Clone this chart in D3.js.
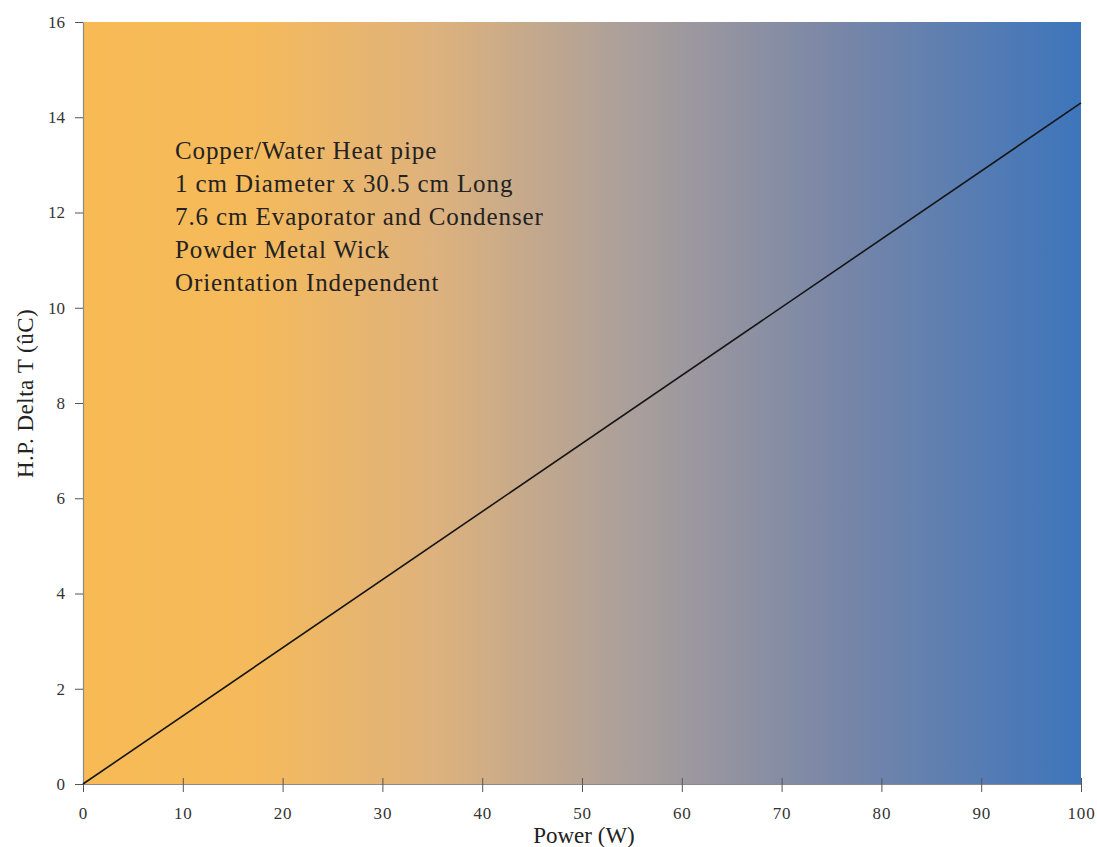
<!DOCTYPE html>
<html>
<head>
<meta charset="utf-8">
<script src="https://cdn.jsdelivr.net/npm/d3@7"></script>
<style>
  body { margin: 0; background: #fff; }
  svg { display: block; font-family: "Liberation Serif", "DejaVu Serif", serif; }
</style>
</head>
<body>
<svg width="1097" height="847"></svg>
<script>
// data
const power = [0, 100];
const deltaT = [0, 14.3];
const xTicks = [0, 10, 20, 30, 40, 50, 60, 70, 80, 90, 100];
const yTicks = [0, 2, 4, 6, 8, 10, 12, 14, 16];
const notes = [
  "Copper/Water Heat pipe",
  "1 cm Diameter x 30.5 cm Long",
  "7.6 cm Evaporator and Condenser",
  "Powder Metal Wick",
  "Orientation Independent",
];

const svg = d3.select("svg");
const margin = { top: 22, right: 16, bottom: 63, left: 83 };
const width = 1097 - margin.left - margin.right;
const height = 847 - margin.top - margin.bottom;

const x = d3.scaleLinear().domain([0, 100]).range([0, width]);
const y = d3.scaleLinear().domain([0, 16]).range([height, 0]);

// background gradient orange -> blue
const grad = svg.append("defs").append("linearGradient")
  .attr("id", "bg").attr("x1", "0%").attr("x2", "100%").attr("y1", "0%").attr("y2", "0%");
[
  [0, "#f7ba55"],
  [0.17, "#f5ba5b"],
  [0.35, "#deb27d"],
  [0.55, "#aa9f9b"],
  [0.75, "#7a87a7"],
  [1, "#3d75bb"],
].forEach(([o, c]) => grad.append("stop").attr("offset", o).attr("stop-color", c));

const g = svg.append("g").attr("transform", `translate(${margin.left},${margin.top})`);

g.append("rect")
  .attr("width", width).attr("height", height)
  .attr("fill", "url(#bg)");

// x axis, ticks cross the bottom edge
const xAxis = g.append("g")
  .attr("transform", `translate(0,${height})`)
  .call(d3.axisBottom(x).tickValues(xTicks).tickSizeInner(8).tickSizeOuter(0).tickPadding(15));
xAxis.selectAll(".tick line").attr("y1", -6).attr("y2", 8);
xAxis.selectAll(".tick text").style("letter-spacing", "0.8px");

const yAxis = g.append("g")
  .call(d3.axisLeft(y).tickValues(yTicks).tickSizeInner(8).tickSizeOuter(0).tickPadding(10));

[xAxis, yAxis].forEach(a => {
  a.select(".domain").attr("stroke", "#8a8a8a").attr("stroke-width", 1.2);
  a.selectAll(".tick line").attr("stroke", "#555");
  a.selectAll(".tick text").attr("fill", "#333").style("font-size", "17px")
    .style("font-family", "'Liberation Serif', serif");
});

// the straight line
const line = d3.line().x(d => x(d[0])).y(d => y(d[1]));
g.append("path")
  .datum(d3.zip(power, deltaT))
  .attr("d", line)
  .attr("fill", "none")
  .attr("stroke", "#151515")
  .attr("stroke-width", 1.6);

// notes
g.append("g").selectAll("text")
  .data(notes)
  .enter()
  .append("text")
  .attr("x", 92)
  .attr("y", (d, i) => 137 + i * 33)
  .attr("fill", "#222")
  .style("font-size", "25px")
  .style("letter-spacing", "0.9px")
  .text(d => d);

// axis titles
svg.append("text")
  .attr("x", 584)
  .attr("y", 843)
  .attr("text-anchor", "middle")
  .attr("fill", "#222")
  .style("font-size", "23px")
  .text("Power (W)");

svg.append("text")
  .attr("transform", `translate(33,${margin.top + y(8.2)}) rotate(-90)`)
  .attr("text-anchor", "middle")
  .attr("fill", "#222")
  .style("font-size", "23px")
  .style("letter-spacing", "0.5px")
  .text("H.P. Delta T (ûC)");
</script>
</body>
</html>
